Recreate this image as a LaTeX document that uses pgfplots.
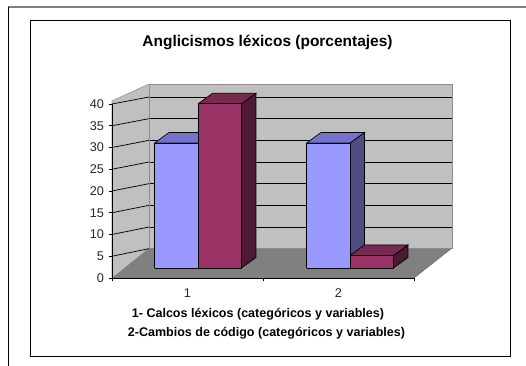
\documentclass[border=0pt]{standalone}
\usepackage{fontspec}
\setmainfont{Liberation Sans}
\usepackage{pgfplots}
\pgfplotsset{compat=1.18}

\definecolor{wall}{HTML}{C0C0C0}
\definecolor{walledge}{HTML}{8C8C8C}
\definecolor{floorgray}{HTML}{808080}
\definecolor{sOneFront}{HTML}{9999FF}
\definecolor{sOneTop}{HTML}{7373CC}
\definecolor{sOneSide}{HTML}{4D4D80}
\definecolor{sTwoFront}{HTML}{993366}
\definecolor{sTwoTop}{HTML}{7A2952}
\definecolor{sTwoSide}{HTML}{4D1A33}

\begin{document}
\begin{tikzpicture}[x=0.75pt,y=0.75pt]
\useasboundingbox (0,0) rectangle (526,366);

% page frame and chart area
\draw[floorgray, line width=1.2pt] (8,359) -- (526,359);
\draw[black, line width=0.75pt] (8,359) -- (8,0);
\draw[black, line width=0.75pt] (30,9) rectangle (510,345);

% title and category captions
\node[anchor=base, font=\fontsize{11.6}{14}\selectfont\bfseries] at (267.5,319.5) {Anglicismos léxicos (porcentajes)};
\node[anchor=base, font=\fontsize{9.4}{11}\selectfont\bfseries] at (258,48) {1- Calcos léxicos (categóricos y variables)};
\node[anchor=base, font=\fontsize{9.4}{11}\selectfont\bfseries] at (266.5,29.5) {2-Cambios de código (categóricos y variables)};

% side wall and floor of the 3-D plot area
\fill[wall] (112,88) -- (149,118) -- (149,282) -- (112,265) -- cycle;
\draw[walledge, line width=0.4pt] (112,88) -- (112,265) -- (149,282);
\fill[floorgray] (112,88) -- (414,88) -- (452,118) -- (149,118) -- cycle;
\draw[floorgray!80!black, line width=0.4pt] (414,88) -- (452,118);
\foreach \v in {5,10,...,40}
  \draw[black, line width=0.55pt] (112,{88+4.35*\v}) -- (149,{95.67+4.333*\v});

% back wall with its gridlines
\begin{axis}[
  at={(111.75pt,88.5pt)}, anchor=south west, scale only axis,
  width=227.25pt, height=123pt,
  xmin=0, xmax=1, ymin=5.153, ymax=43.0,
  xtick=\empty, ytick={10,15,...,40}, yticklabels={},
  major tick length=0pt,
  ymajorgrids, grid style={black, line width=0.55pt},
  axis background/.style={fill=wall},
  axis line style={walledge, line width=0.4pt},
]
\end{axis}

% value axis and category axis at the front edge
\begin{axis}[
  at={(84pt,66pt)}, anchor=south west, scale only axis,
  width=226.5pt, height=130.5pt,
  xmin=0, xmax=2, ymin=0, ymax=40,
  axis lines=left,
  axis line style={-, black, line width=0.6pt},
  ytick={0,5,...,40},
  xtick={0,1,2}, x tick label as interval, xticklabels={1,2},
  tick align=outside, major tick length=2.5pt,
  tick style={black, line width=0.6pt},
  tick label style={font=\fontsize{9.5}{10}\selectfont, text=black!85},
  xticklabel style={yshift=-2pt},
  /pgf/number format/assume math mode=true,
]
\end{axis}

% 3-D columns: x = category position, y = depth, z = percentage
\begin{axis}[
  at={(34.5pt,73.5pt)}, anchor=origin,
  x={(114pt,0pt)}, y={(10.875pt,7.875pt)}, z={(0pt,3.125pt)},
  xmin=0, xmax=3, ymin=0, ymax=1, zmin=0, zmax=45,
  hide axis, clip=false,
  every axis plot/.append style={draw=black, line width=0.5pt},
]
% category 1, series 1 (30)
\addplot3[fill=sOneSide]  coordinates {(1,0,0) (1,1,0) (1,1,30) (1,0,30) (1,0,0)};
\addplot3[fill=sOneTop]   coordinates {(0.714,0,30) (1,0,30) (1,1,30) (0.714,1,30) (0.714,0,30)};
\addplot3[fill=sOneFront] coordinates {(0.714,0,0) (1,0,0) (1,0,30) (0.714,0,30) (0.714,0,0)};
% category 1, series 2 (39.4)
\addplot3[fill=sTwoSide]  coordinates {(1.286,0,0) (1.286,1,0) (1.286,1,39.4) (1.286,0,39.4) (1.286,0,0)};
\addplot3[fill=sTwoTop]   coordinates {(1,0,39.4) (1.286,0,39.4) (1.286,1,39.4) (1,1,39.4) (1,0,39.4)};
\addplot3[fill=sTwoFront] coordinates {(1,0,0) (1.286,0,0) (1.286,0,39.4) (1,0,39.4) (1,0,0)};
% category 2, series 1 (30)
\addplot3[fill=sOneSide]  coordinates {(2,0,0) (2,1,0) (2,1,30) (2,0,30) (2,0,0)};
\addplot3[fill=sOneTop]   coordinates {(1.714,0,30) (2,0,30) (2,1,30) (1.714,1,30) (1.714,0,30)};
\addplot3[fill=sOneFront] coordinates {(1.714,0,0) (2,0,0) (2,0,30) (1.714,0,30) (1.714,0,0)};
% category 2, series 2 (3)
\addplot3[fill=sTwoSide]  coordinates {(2.286,0,0) (2.286,1,0) (2.286,1,3) (2.286,0,3) (2.286,0,0)};
\addplot3[fill=sTwoTop]   coordinates {(2,0,3) (2.286,0,3) (2.286,1,3) (2,1,3) (2,0,3)};
\addplot3[fill=sTwoFront] coordinates {(2,0,0) (2.286,0,0) (2.286,0,3) (2,0,3) (2,0,0)};
\end{axis}
\end{tikzpicture}
\end{document}
